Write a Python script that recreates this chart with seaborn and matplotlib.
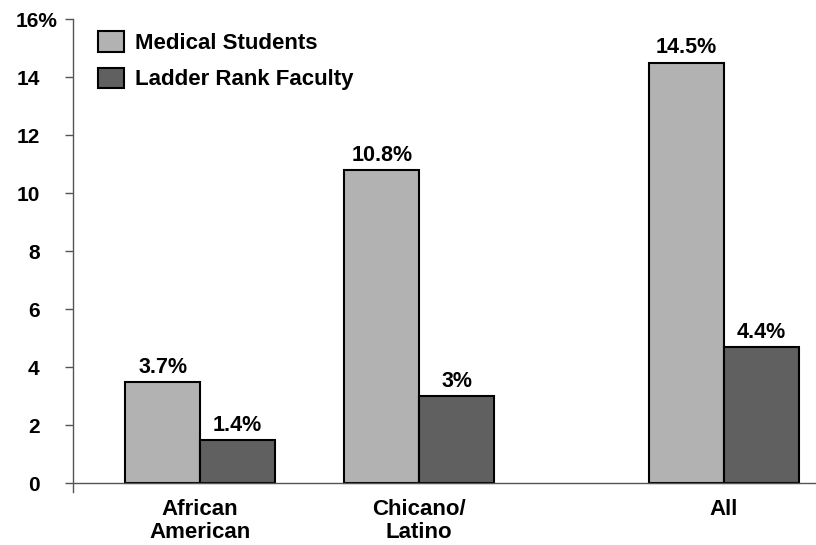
import pandas as pd
import seaborn as sns
import matplotlib.pyplot as plt
from matplotlib.transforms import ScaledTranslation

# datos
grupos = ['African\nAmerican', 'Chicano/\nLatino', 'All']
posiciones = [0, 1, 2.39]
series = ['Medical Students', 'Ladder Rank Faculty']
estudiantes = [3.5, 10.8, 14.5]
profesores = [1.5, 3.0, 4.7]
etiq_estudiantes = ['3.7%', '10.8%', '14.5%']
etiq_profesores = ['1.4%', '3%', '4.4%']
yticks = [0, 2, 4, 6, 8, 10, 12, 14, 16]
ytick_labels = ['0', '2', '4', '6', '8', '10', '12', '14', '16%']

df = pd.DataFrame({
    'pos': posiciones * 2,
    'valor': estudiantes + profesores,
    'serie': [series[0]] * 3 + [series[1]] * 3,
})

sns.set_style('white')
plt.rcParams['font.family'] = ['Liberation Sans', 'DejaVu Sans']
plt.rcParams['font.weight'] = 'bold'
plt.rcParams['text.color'] = 'black'
plt.rcParams['xtick.color'] = 'black'
plt.rcParams['ytick.color'] = 'black'

fig = plt.figure(figsize=(8.16, 5.45), dpi=100)
ax = fig.add_axes([0.0895, 0.097, 0.9105, 0.868])

sns.barplot(data=df, x='pos', y='valor', hue='serie', native_scale=True,
            palette=['#b2b2b2', '#606060'], edgecolor='black', linewidth=1.5,
            width=0.685, gap=0, ax=ax, legend=True)

# etiquetas sobre las barras
for cont, etiquetas in zip(ax.containers, [etiq_estudiantes, etiq_profesores]):
    ax.bar_label(cont, labels=etiquetas, padding=3, fontsize=15.5, fontweight='bold')

ax.set_xlim(-0.58, 2.81)
ax.set_ylim(-0.3, 16)
ax.axhline(0, color='#555555', linewidth=1)
ax.set_yticks(yticks)
ax.set_yticklabels(ytick_labels, fontsize=15, fontweight='bold')
ax.set_xticks(posiciones)
ax.set_xticklabels(grupos, fontsize=16, fontweight='bold', linespacing=1.1)
ax.tick_params(axis='y', left=True, length=6, width=1, color='#555555', pad=18)
ax.tick_params(axis='x', bottom=False, length=0, pad=5)
ax.set_xlabel('')
ax.set_ylabel('')

# el signo % sobresale a la derecha del 16
etiqueta_top = ax.get_yticklabels()[-1]
etiqueta_top.set_transform(etiqueta_top.get_transform() + ScaledTranslation(18 / 100, 0, fig.dpi_scale_trans))

for lado in ['top', 'right', 'bottom']:
    ax.spines[lado].set_visible(False)
ax.spines['left'].set_color('#555555')
ax.spines['left'].set_linewidth(1)

leg = ax.legend(title=None, loc='upper left', bbox_to_anchor=(0.034, 0.974), frameon=False,
                prop={'size': 16, 'weight': 'bold'}, handlelength=1.15, handleheight=1.05,
                labelspacing=0.6, handletextpad=0.5, borderpad=0, borderaxespad=0)

plt.savefig('out.png', dpi=100)
